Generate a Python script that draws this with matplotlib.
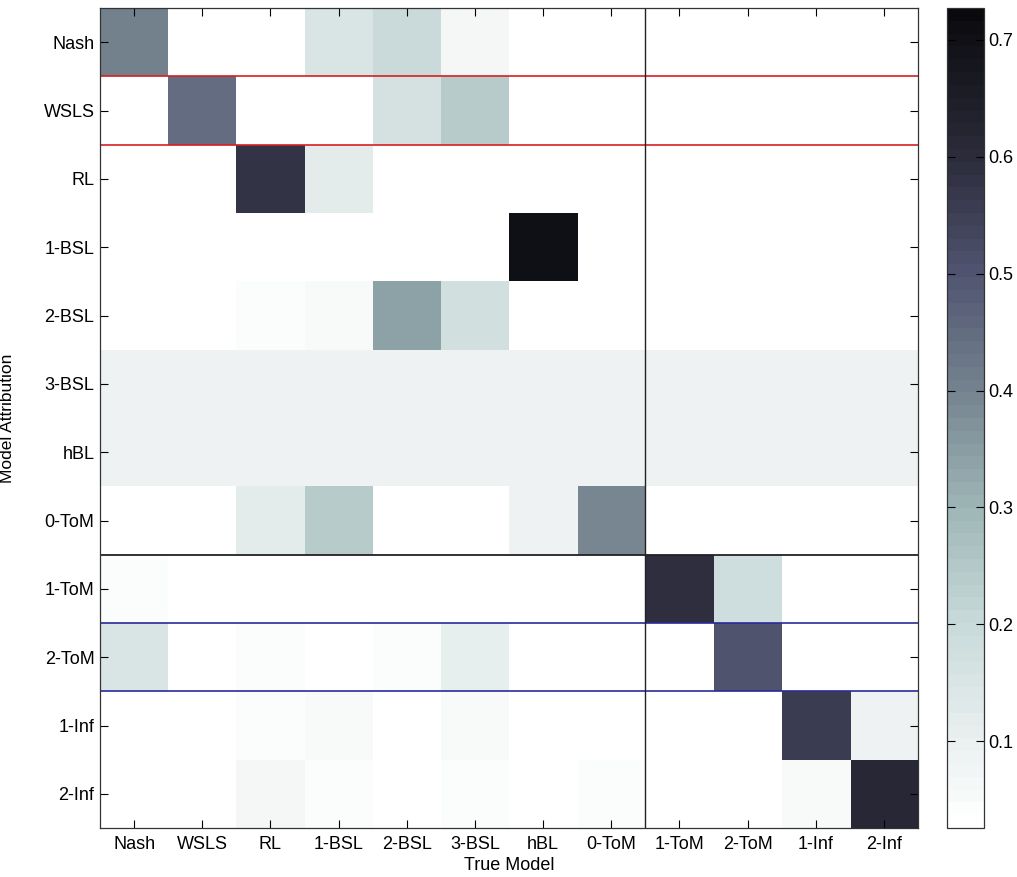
import numpy as np
import matplotlib
matplotlib.use("Agg")
import matplotlib.pyplot as plt
from matplotlib.colors import LinearSegmentedColormap, Normalize

plt.rcParams['font.family'] = ['Liberation Sans', 'DejaVu Sans']

models = ["Nash", "WSLS", "RL", "1-BSL", "2-BSL", "3-BSL", "hBL", "0-ToM",
          "1-ToM", "2-ToM", "1-Inf", "2-Inf"]

# rows = model attribution, columns = true model
row_nash  = [0.40, 0.0, 0.0, 0.15, 0.20, 0.06, 0.0, 0.0, 0.0, 0.0, 0.0, 0.0]
row_wsls  = [0.0, 0.45, 0.0, 0.0, 0.16, 0.24, 0.0, 0.0, 0.0, 0.0, 0.0, 0.0]
row_rl    = [0.0, 0.0, 0.58, 0.12, 0.0, 0.0, 0.0, 0.0, 0.0, 0.0, 0.0, 0.0]
row_1bsl  = [0.0, 0.0, 0.0, 0.0, 0.0, 0.0, 0.70, 0.0, 0.0, 0.0, 0.0, 0.0]
row_2bsl  = [0.035, 0.035, 0.045, 0.05, 0.34, 0.17, 0.035, 0.035, 0.035, 0.035, 0.035, 0.035]
row_3bsl  = [0.085] * 12
row_hbl   = [0.085] * 12
row_0tom  = [0.0, 0.0, 0.12, 0.24, 0.0, 0.0, 0.09, 0.39, 0.0, 0.0, 0.0, 0.0]
row_1tom  = [0.04, 0.0, 0.0, 0.0, 0.0, 0.0, 0.0, 0.0, 0.59, 0.19, 0.0, 0.0]
row_2tom  = [0.15, 0.0, 0.04, 0.0, 0.04, 0.11, 0.0, 0.0, 0.0, 0.50, 0.0, 0.0]
row_1inf  = [0.0, 0.0, 0.04, 0.055, 0.0, 0.055, 0.0, 0.0, 0.0, 0.0, 0.56, 0.09]
row_2inf  = [0.0, 0.0, 0.06, 0.045, 0.035, 0.04, 0.035, 0.045, 0.0, 0.0, 0.05, 0.61]

data = np.array([row_nash, row_wsls, row_rl, row_1bsl, row_2bsl, row_3bsl,
                 row_hbl, row_0tom, row_1tom, row_2tom, row_1inf, row_2inf])

vmin, vmax = 0.026, 0.727
cbar_ticks = [0.1, 0.2, 0.3, 0.4, 0.5, 0.6, 0.7]

# reversed "bone"-like map, as it appears in the figure
cmap_vals = [0.026, 0.1, 0.2, 0.3, 0.4, 0.5, 0.6, 0.727]
cmap_cols = ["#ffffff", "#e9efef", "#c8d9d9", "#9db5b6", "#75838f",
             "#515571", "#2c2c3c", "#0a0a0e"]
norm = Normalize(vmin=vmin, vmax=vmax)
cmap = LinearSegmentedColormap.from_list(
    "bone_fig", list(zip([float(norm(v)) for v in cmap_vals], cmap_cols)), N=64)

fig = plt.figure(figsize=(10.17, 8.77), dpi=100)
ax = fig.add_axes([100/1017, 1-828/877, 818/1017, 820/877])
cax = fig.add_axes([947/1017, 1-828/877, 37/1017, 820/877])

im = ax.imshow(data, cmap=cmap, norm=norm, aspect='auto', interpolation='nearest')

ax.axhline(0.5, color='#d42020', lw=1.2)
ax.axhline(1.5, color='#d42020', lw=1.2)
ax.axhline(7.5, color='#222222', lw=1.3)
ax.axhline(8.5, color='#2a2a9a', lw=1.2)
ax.axhline(9.5, color='#2a2a9a', lw=1.2)
ax.axvline(7.5, color='#222222', lw=1.0)

ax.set_xticks(range(12))
ax.set_xticklabels(models, fontsize=13)
ax.set_yticks(range(12))
ax.set_yticklabels(models, fontsize=13)
ax.tick_params(direction='in', top=True, right=True, length=6, width=0.8)
ax.tick_params(axis='y', pad=4)
ax.tick_params(axis='x', pad=6)
ax.set_xlabel("True Model", fontsize=13, labelpad=3)
ax.set_ylabel("Model Attribution", fontsize=12.5)
ax.yaxis.set_label_coords(-85/818, 0.5)
for s in ax.spines.values():
    s.set_linewidth(0.9)
    s.set_color('#333333')

cb = fig.colorbar(im, cax=cax, ticks=cbar_ticks)
cb.ax.tick_params(direction='in', left=True, right=True, length=6, width=0.8,
                  labelsize=13, pad=3)
cb.ax.set_yticklabels([f"{t:.1f}" for t in cbar_ticks])
cb.outline.set_linewidth(0.9)
cb.outline.set_edgecolor('#333333')

fig.savefig("out.png", dpi=100)
